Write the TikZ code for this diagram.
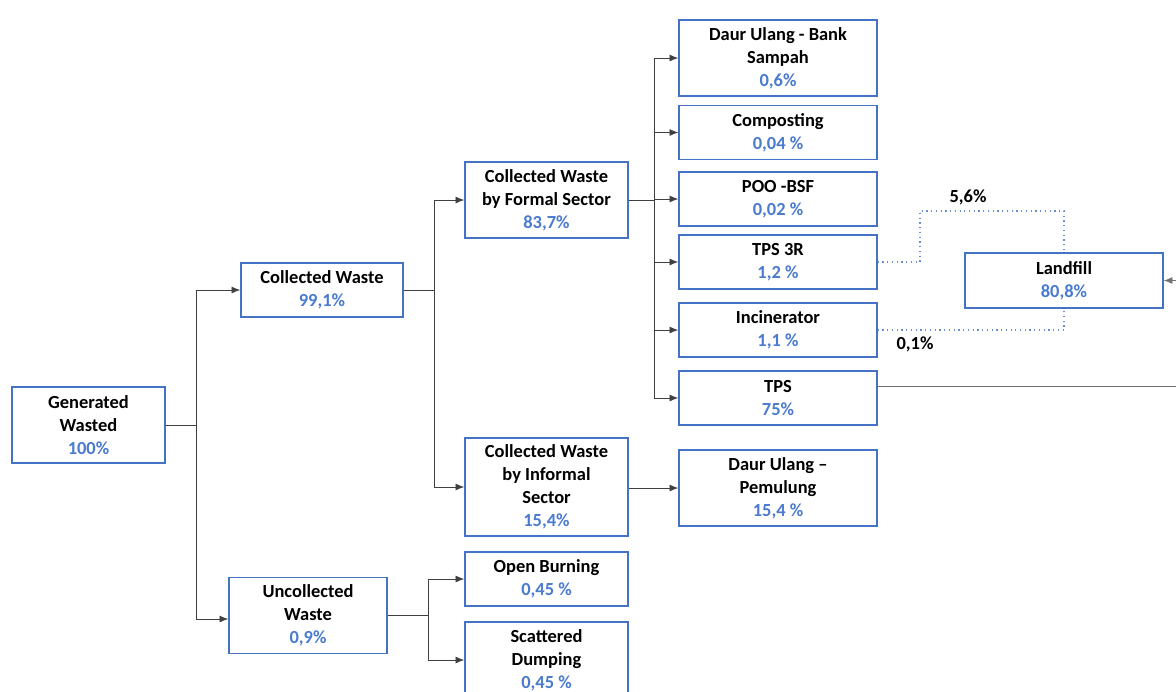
\documentclass[tikz,border=0pt]{standalone}
\usepackage{fontspec}
\setmainfont{Carlito}
\usetikzlibrary{arrows.meta}
\definecolor{boxblue}{HTML}{4472C4}
\definecolor{pctblue}{HTML}{4A7BD0}
\newcommand{\pct}[1]{\textcolor{pctblue}{#1}}
\tikzset{
  wbox/.style={draw=boxblue, line width=0.8pt, fill=white, align=center,
    font=\fontsize{10.5}{13}\selectfont\bfseries, inner sep=2pt},
  arr/.style={-{Latex[length=5pt,width=4pt]}, draw=black!75, line width=0.5pt},
  flowdot/.style={draw=boxblue!80, dotted, line width=0.7pt},
  lbl/.style={font=\fontsize{10.5}{13}\selectfont\bfseries}
}
\begin{document}
\begin{tikzpicture}[x=0.02cm, y=-0.02cm]
    \useasboundingbox (0,0) rectangle (1176,691);

    % Level 0 and 1
    \node[wbox, minimum width=3.06cm, minimum height=1.52cm] (gen) at (88.5,425) {Generated\\Wasted\\\pct{100\%}};
    \node[wbox, minimum width=3.24cm, minimum height=1.08cm] (collected) at (322,290) {Collected Waste\\\pct{99,1\%}};
    \node[wbox, minimum width=3.16cm, minimum height=1.52cm] (uncollected) at (308,615.5) {Uncollected\\Waste\\\pct{0,9\%}};

    % Level 2
    \node[wbox, minimum width=3.26cm, minimum height=1.52cm] (formal) at (546.5,200) {Collected Waste\\by Formal Sector\\\pct{83,7\%}};
    \node[wbox, minimum width=3.26cm, minimum height=1.96cm] (informal) at (546.5,487) {Collected Waste\\by Informal\\Sector\\\pct{15,4\%}};
    \node[wbox, minimum width=3.26cm, minimum height=1.08cm] (burning) at (546.5,579) {Open Burning\\\pct{0,45 \%}};
    \node[wbox, minimum width=3.26cm, minimum height=1.52cm] (scatter) at (546.5,660) {Scattered\\Dumping\\\pct{0,45 \%}};

    % Level 3
    \node[wbox, minimum width=3.96cm, minimum height=1.52cm] (bank) at (778,58) {Daur Ulang - Bank\\Sampah\\\pct{0,6\%}};
    \node[wbox, minimum width=3.96cm, minimum height=1.08cm] (compost) at (778,132.5) {Compos\kern0pt ting\\\pct{0,04 \%}};
    \node[wbox, minimum width=3.96cm, minimum height=1.08cm] (poo) at (778,199) {POO -BSF\\\pct{0,02 \%}};
    \node[wbox, minimum width=3.96cm, minimum height=1.08cm] (tps3r) at (778,262) {TPS 3R\\\pct{1,2 \%}};
    \node[wbox, minimum width=3.96cm, minimum height=1.08cm] (incin) at (778,330) {Incinerator\\\pct{1,1 \%}};
    \node[wbox, minimum width=3.96cm, minimum height=1.08cm] (tps) at (778,398) {TPS\\\pct{75\%}};
    \node[wbox, minimum width=3.96cm, minimum height=1.52cm] (pemulung) at (778,488) {Daur Ulang --\\Pemulung\\\pct{15,4 \%}};

    % Landfill
    \node[wbox, minimum width=3.96cm, minimum height=1.1cm] (landfill) at (1064,280.5) {Landfill\\\pct{80,8\%}};

    % Connections
    \draw[arr] (gen.east) -- ++(31,0) |- (collected.west);
    \draw[arr] (gen.east) -- ++(31,0) |- ([yshift=-2pt]uncollected.west);
    \draw[arr] (collected.east) -- ++(31,0) |- (formal.west);
    \draw[arr] (collected.east) -- ++(31,0) |- (informal.west);
    \draw[arr] (uncollected.east) -- ++(41,0) |- (burning.west);
    \draw[arr] (uncollected.east) -- ++(41,0) |- (scatter.west);
    \foreach \n in {bank,compost,poo,tps3r,incin,tps}
        \draw[arr] (formal.east) -- ++(26,0) |- (\n.west);
    \draw[arr] (informal.east |- pemulung.west) -- (pemulung.west);

    % Flows to landfill
    \coordinate (bendA) at (920,211);
    \draw[flowdot] (tps3r.east) -| (bendA) -| (landfill.north);
    \draw[flowdot] (incin.east) -| (landfill.south);
    \node[lbl] (lblA) at (968,197) {5,6\%};
    \node[lbl] (lblB) at (915,344) {0,1\%};
    \coordinate (tpsout) at (1200,386);
    \draw[arr, draw=black!55] (tps.east |- tpsout) -- (tpsout) |- (landfill.east);
\end{tikzpicture}
\end{document}
